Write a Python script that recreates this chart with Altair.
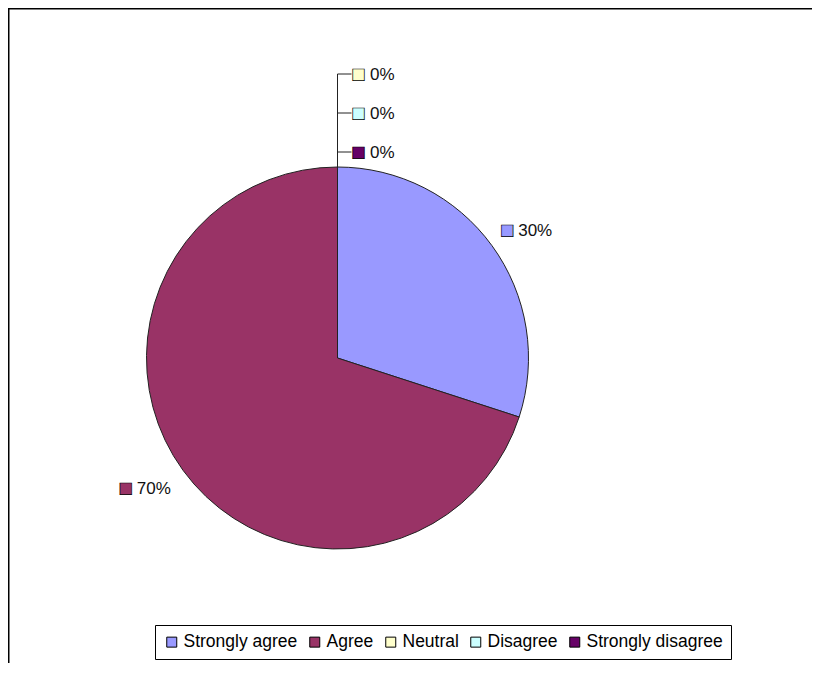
import altair as alt
import pandas as pd

categories = ["Strongly agree", "Agree", "Neutral", "Disagree", "Strongly disagree"]
values = [30, 70, 0, 0, 0]
labels = ["30%", "70%", "0%", "0%", "0%"]
colors = ["#9999FF", "#993366", "#FFFFCC", "#CCFFFF", "#660066"]

df = pd.DataFrame({
    "category": categories,
    "value": values,
    "label": labels,
    "order": list(range(len(categories))),
})

W, H = 804, 655
CX, CY = 329.5, 350
R = 191
FONT = "Liberation Sans"
GLYPH = 24

color = alt.Color(
    "category:N",
    sort=categories,
    scale=alt.Scale(domain=categories, range=colors),
    legend=alt.Legend(
        title=None, orient="none", legendX=147, legendY=617,
        direction="horizontal", symbolType="square", symbolSize=100,
        symbolStrokeColor="black", symbolStrokeWidth=1, symbolOpacity=1,
        labelFontSize=17.5, labelFont=FONT, labelColor="#000",
        labelOffset=3, columnPadding=8, labelLimit=300,
        strokeColor="black", fillColor="white", padding=8,
    ),
)

base = alt.Chart(df)

pie = base.mark_arc(outerRadius=R, stroke="#222", strokeWidth=1).encode(
    theta=alt.Theta("value:Q", stack=True),
    color=color,
    order=alt.Order("order:Q", sort="ascending"),
    x=alt.value(CX), y=alt.value(CY),
)

# labels of non-zero slices, placed at slice mid-angle
nz = base.transform_filter("datum.value > 0")
nz_sq = nz.mark_text(text="\u25a0", fontSize=GLYPH, font=FONT, baseline="middle",
                     align="center", dx=-21, dy=2, stroke="#000", strokeWidth=0.7,
                     thetaOffset=0.035).encode(
    theta=alt.Theta("value:Q", stack=True),
    order=alt.Order("order:Q", sort="ascending"),
    radius=alt.value(230),
    color=color,
    x=alt.value(CX), y=alt.value(CY),
)
nz_txt = nz.mark_text(fontSize=17, font=FONT, baseline="middle", align="left",
                      dx=-10, dy=2, color="#111", thetaOffset=0.035).encode(
    theta=alt.Theta("value:Q", stack=True),
    order=alt.Order("order:Q", sort="ascending"),
    radius=alt.value(230),
    text="label:N",
    x=alt.value(CX), y=alt.value(CY),
)

# zero-value labels stacked above the pie top with leader lines
ysc = alt.Scale(domain=[2, 4], range=[66, 144])
z = base.transform_filter("datum.value == 0")
z_tick = z.mark_rule(color="#222", strokeWidth=1).encode(
    y=alt.Y("order:Q", scale=ysc, axis=None),
    x=alt.value(CX), x2=alt.value(CX + 14),
)
z_sq = z.mark_text(text="\u25a0", fontSize=GLYPH, font=FONT, baseline="middle",
                   align="center", dx=21, dy=1, stroke="#000", strokeWidth=0.7).encode(
    y=alt.Y("order:Q", scale=ysc, axis=None),
    x=alt.value(CX),
    color=color,
)
z_txt = z.mark_text(fontSize=17, font=FONT, baseline="middle", align="left",
                    dx=32.5, dy=1, color="#111").encode(
    y=alt.Y("order:Q", scale=ysc, axis=None),
    x=alt.value(CX),
    text="label:N",
)

one = alt.Chart(pd.DataFrame({"k": [0]}))
leader = one.mark_rule(color="#222", strokeWidth=1).encode(
    x=alt.value(CX), y=alt.value(66), y2=alt.value(CY - R),
)
frame_top = one.mark_rule(color="#000", strokeWidth=1.5).encode(
    x=alt.value(0), x2=alt.value(W), y=alt.value(0.75),
)
frame_left = one.mark_rule(color="#000", strokeWidth=1.5).encode(
    x=alt.value(0.75), y=alt.value(0), y2=alt.value(H),
)

chart = alt.layer(
    frame_top, frame_left, pie, leader, z_tick, nz_sq, nz_txt, z_sq, z_txt
).properties(
    width=W, height=H, padding=0,
    autosize=alt.AutoSizeParams(type="none"),
    background="white",
).configure_view(stroke=None)

chart.save("out.html", embed_options={"renderer": "svg", "actions": False})
